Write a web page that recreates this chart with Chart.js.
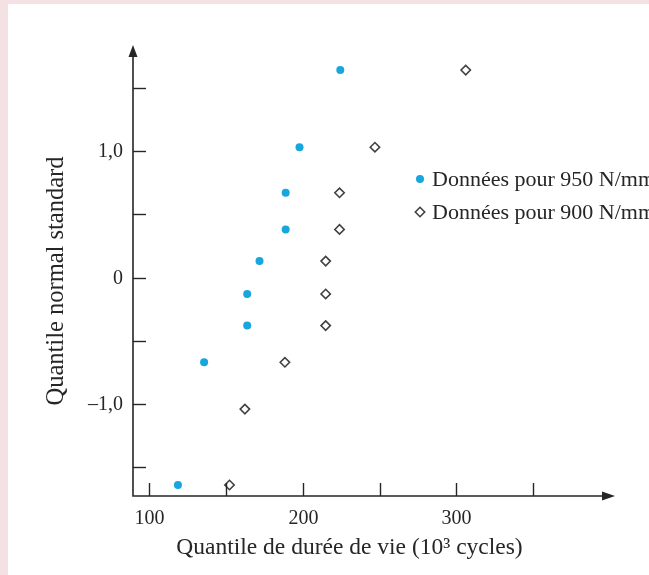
<!DOCTYPE html>
<html>
<head>
<meta charset="utf-8">
<script src="https://cdn.jsdelivr.net/npm/chart.js@4.4.0/dist/chart.umd.min.js"></script>
<style>
    html, body { margin: 0; padding: 0; background: #f4e1e4; overflow: hidden; }
    .card { position: absolute; left: 8px; top: 4px; width: 641px; height: 571px; background: #fff; }
    canvas { display: block; }
</style>
</head>
<body>
<div class="card"><canvas id="myChart" width="641" height="571"></canvas></div>
<script>
// fatigue life quantiles (10^3 cycles) against standard normal quantiles
const life950 = [119, 136, 164, 164, 172, 189, 189, 198, 224.5];
const z950 = [-1.64, -0.67, -0.38, -0.13, 0.13, 0.38, 0.67, 1.03, 1.64];

const life900 = [152.5, 162.5, 188.5, 215, 215, 215, 224, 224, 247, 306];
const z900 = [-1.64, -1.04, -0.67, -0.38, -0.13, 0.13, 0.38, 0.67, 1.03, 1.64];

const seriesLabels = ['Données pour 950 N/mm²', 'Données pour 900 N/mm²'];

const xTicks = [100, 150, 200, 250, 300, 350];
const xTickLabels = { 100: '100', 200: '200', 300: '300' };
const yTicks = [-1.5, -1.0, -0.5, 0, 0.5, 1.0, 1.5];
const yTickLabels = { '-1': '–1,0', '0': '0', '1': '1,0' };

const xTitle = 'Quantile de durée de vie (10³ cycles)';
const yTitle = 'Quantile normal standard';

const INK = '#262626';
const BLUE = '#17a6de';
const SERIF = '"Liberation Serif", "Times New Roman", serif';

const toPoints = (xs, ys) => xs.map((x, i) => ({ x: x, y: ys[i] }));

// axes with arrow heads, inward ticks, labels and the legend
const axesPlugin = {
    id: 'arrowAxes',
    afterDatasetsDraw(chart) {
        const ctx = chart.ctx;
        const area = chart.chartArea;
        const xs = chart.scales.x;
        const ys = chart.scales.y;
        const tick = 13;

        ctx.save();
        ctx.strokeStyle = INK;
        ctx.fillStyle = INK;
        ctx.lineWidth = 1.6;

        ctx.beginPath();
        ctx.moveTo(area.left, area.top + 6);
        ctx.lineTo(area.left, area.bottom);
        ctx.lineTo(area.right - 6, area.bottom);
        ctx.stroke();

        // arrow heads
        ctx.beginPath();
        ctx.moveTo(area.left, area.top);
        ctx.lineTo(area.left - 4.5, area.top + 12);
        ctx.lineTo(area.left + 4.5, area.top + 12);
        ctx.closePath();
        ctx.fill();
        ctx.beginPath();
        ctx.moveTo(area.right, area.bottom);
        ctx.lineTo(area.right - 13, area.bottom - 4.5);
        ctx.lineTo(area.right - 13, area.bottom + 4.5);
        ctx.closePath();
        ctx.fill();

        ctx.lineWidth = 1.4;
        ctx.font = '20px ' + SERIF;

        xTicks.forEach((v) => {
            const px = Math.round(xs.getPixelForValue(v)) + 0.5;
            ctx.beginPath();
            ctx.moveTo(px, area.bottom);
            ctx.lineTo(px, area.bottom - tick);
            ctx.stroke();
            if (xTickLabels[v]) {
                ctx.textAlign = 'center';
                ctx.textBaseline = 'middle';
                ctx.fillText(xTickLabels[v], px, area.bottom + 23);
            }
        });

        yTicks.forEach((v) => {
            const py = Math.round(ys.getPixelForValue(v)) + 0.5;
            ctx.beginPath();
            ctx.moveTo(area.left, py);
            ctx.lineTo(area.left + tick, py);
            ctx.stroke();
            if (yTickLabels[String(v)]) {
                ctx.textAlign = 'right';
                ctx.textBaseline = 'middle';
                ctx.fillText(yTickLabels[String(v)], area.left - 10, py);
            }
        });

        // axis titles
        ctx.textAlign = 'center';
        ctx.textBaseline = 'middle';
        ctx.font = '23.5px ' + SERIF;
        ctx.fillText(xTitle, 341.5, 544);

        ctx.save();
        ctx.font = '24.5px ' + SERIF;
        ctx.translate(49, 277);
        ctx.rotate(-Math.PI / 2);
        ctx.fillText(yTitle, 0, 0);
        ctx.restore();

        // legend, one row per dataset
        ctx.font = '22px ' + SERIF;
        ctx.textAlign = 'left';
        chart.data.datasets.forEach((ds, i) => {
            const cy = 175 + i * 33;
            ctx.fillStyle = ds.backgroundColor;
            ctx.strokeStyle = ds.borderColor;
            ctx.lineWidth = ds.borderWidth;
            Chart.helpers.drawPoint(ctx, {
                pointStyle: ds.pointStyle,
                radius: ds.pointRadius,
                borderWidth: ds.borderWidth,
            }, 412, cy);
            ctx.fillStyle = INK;
            ctx.fillText(ds.label, 424, cy + 1);
        });

        ctx.restore();
    }
};

const ctx = document.getElementById('myChart').getContext('2d');

const data = {
    datasets: [
        {
            label: seriesLabels[0],
            data: toPoints(life950, z950),
            pointStyle: 'circle',
            pointRadius: 4,
            backgroundColor: BLUE,
            borderColor: BLUE,
            borderWidth: 0,
            showLine: false,
        },
        {
            label: seriesLabels[1],
            data: toPoints(life900, z900),
            pointStyle: 'rectRot',
            pointRadius: 4.7,
            backgroundColor: '#ffffff',
            borderColor: '#404040',
            borderWidth: 1.6,
            showLine: false,
        },
    ],
};

const config = {
    type: 'scatter',
    data: data,
    options: {
        responsive: false,
        animation: false,
        devicePixelRatio: 1,
        layout: {
            padding: { left: 125, right: 34, top: 41, bottom: 79 },
        },
        plugins: {
            legend: { display: false },
            tooltip: { enabled: false },
        },
        scales: {
            x: { type: 'linear', display: false, min: 89.8, max: 403 },
            y: { type: 'linear', display: false, min: -1.727, max: 1.838 },
        },
        elements: { point: { hoverRadius: 4 } },
    },
    plugins: [axesPlugin],
};

const myChart = new Chart(ctx, config);
</script>
</body>
</html>
